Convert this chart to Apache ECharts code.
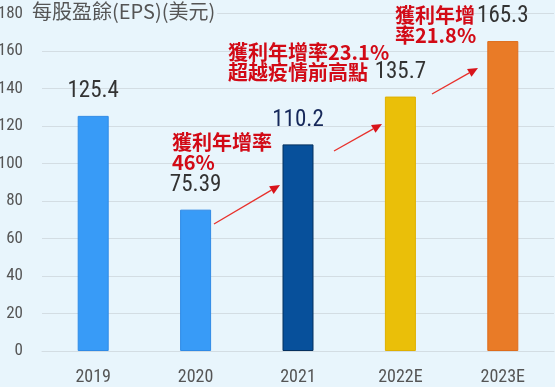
<!DOCTYPE html>
<html><head><meta charset="utf-8">
<script src="https://cdn.jsdelivr.net/npm/echarts@6/dist/echarts.min.js"></script>
<style>html,body{margin:0;padding:0;background:#e8f5fc;}#c{width:555px;height:387px;}</style>
</head><body><div id="c"></div>
<script>
const categories = ['2019', '2020', '2021', '2022E', '2023E'];
const epsValues = [125.4, 75.39, 110.2, 135.7, 165.3];
const barColors = ['#389bf7', '#389bf7', '#07509b', '#eabf09', '#e97b27'];
const barBorders = ['#2f8ae6', '#2f8ae6', '#05305f', '#dfb000', '#de6c1c'];
const labelColors = ['#333333', '#333333', '#16285a', '#333333', '#333333'];
const yTicks = { min: 0, max: 180, interval: 20 };
const titleText = '每股盈餘(EPS)(美元)';
const notes = [
  { text: '獲利年增率\n46%', x: 172, y: 132 },
  { text: '獲利年增率23.1%\n超越疫情前高點', x: 228, y: 42 },
  { text: '獲利年增\n率21.8%', x: 395, y: 5 }
];
const arrows = [
  [[214, 224], [280, 185]],
  [[334, 151], [382, 124]],
  [[432, 94], [478, 68]]
];

const numFont = "Roboto, sans-serif";
const condensed = 'normal condensed';
const chart = echarts.init(document.getElementById('c'));

function arrowGraphics() {
  const out = [];
  arrows.forEach(([s, e]) => {
    const dx = e[0] - s[0], dy = e[1] - s[1];
    const len = Math.hypot(dx, dy), ux = dx / len, uy = dy / len;
    const hl = 10, hw = 4.5;
    const bx = e[0] - ux * hl, by = e[1] - uy * hl;
    out.push({ type: 'line', shape: { x1: s[0], y1: s[1], x2: bx, y2: by },
      style: { stroke: '#e8312c', lineWidth: 1.3 }, z: 10 });
    out.push({ type: 'polygon', shape: { points: [e, [bx - uy * hw, by + ux * hw], [bx + uy * hw, by - ux * hw]] },
      style: { fill: '#d8141b' }, z: 10 });
  });
  notes.forEach(n => {
    out.push({ type: 'text', left: n.x, top: n.y, z: 10,
      style: { text: n.text, fill: '#d20a16', font: "bold 20px 'Noto Sans CJK TC', sans-serif", lineHeight: 20 } });
  });
  return out;
}

chart.setOption({
  backgroundColor: '#e8f5fc',
  animation: false,
  title: {
    text: titleText, left: 30, top: 0, padding: [1, 2],
    backgroundColor: '#e8f5fc',
    textStyle: { fontSize: 20, fontWeight: 'normal', color: '#555', fontFamily: "'Noto Sans CJK TC', sans-serif" }
  },
  grid: { left: 42, right: 1, top: 13.5, bottom: 36, outerBoundsMode: 'none', containLabel: false },
  xAxis: {
    type: 'category', data: categories,
    axisLine: { show: true, lineStyle: { color: '#d3dde3' } },
    axisTick: { show: false },
    axisLabel: { color: '#555', fontSize: 18, fontWeight: condensed, fontFamily: numFont, margin: 17 }
  },
  yAxis: {
    type: 'value', min: yTicks.min, max: yTicks.max, interval: yTicks.interval,
    axisLine: { show: false }, axisTick: { show: false },
    splitLine: { lineStyle: { color: '#d3dde3', width: 1 } },
    axisLabel: { color: '#555', fontSize: 17, fontWeight: condensed, fontFamily: numFont, margin: 19 }
  },
  series: [{
    type: 'bar', barWidth: 31,
    data: epsValues.map((v, i) => ({
      value: v,
      itemStyle: { color: barColors[i], borderColor: barBorders[i], borderWidth: 1 },
      label: { color: labelColors[i] }
    })),
    label: { show: true, position: 'top', distance: 13, fontSize: 23, fontWeight: condensed, fontFamily: numFont, color: '#333' }
  }],
  graphic: arrowGraphics()
});
</script></body></html>
